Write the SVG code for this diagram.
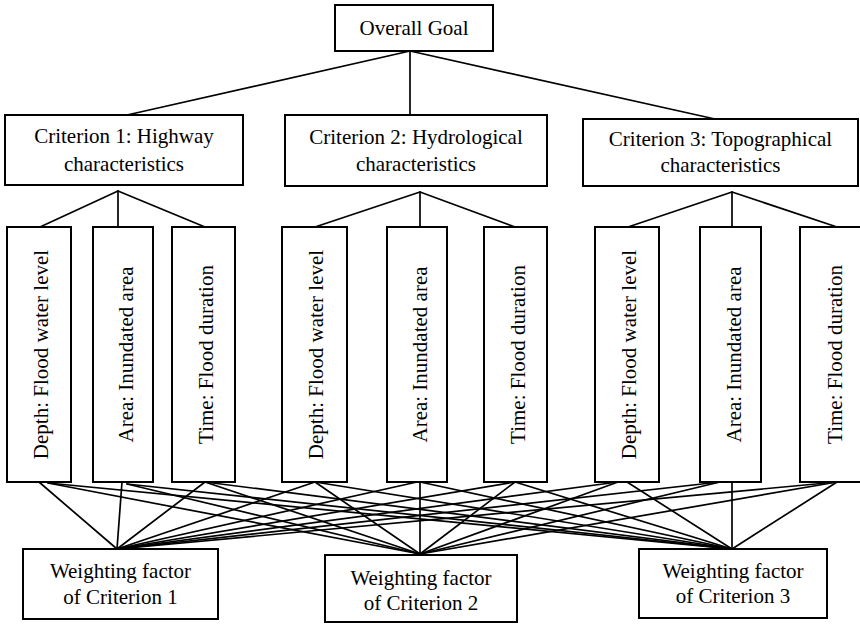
<svg xmlns="http://www.w3.org/2000/svg" width="860" height="625" viewBox="0 0 860 625">
<style>
.box{fill:#fff;stroke:#000;stroke-width:2}
.lbl{font-family:'Liberation Serif','DejaVu Serif',serif;font-size:21px;text-anchor:middle;fill:#000}
.conn line{stroke:#000;stroke-width:1.7;stroke-linecap:round}
</style>
<rect width="860" height="625" fill="#fff"/>
<g id="connectors" class="conn">
<line x1="410" y1="51" x2="127" y2="115"/>
<line x1="410" y1="51" x2="410" y2="115"/>
<line x1="410" y1="51" x2="715" y2="119"/>
<line x1="118" y1="191" x2="40" y2="227"/>
<line x1="118" y1="191" x2="118" y2="227"/>
<line x1="118" y1="191" x2="205" y2="227"/>
<line x1="420" y1="192" x2="315" y2="227"/>
<line x1="420" y1="192" x2="420" y2="227"/>
<line x1="420" y1="192" x2="515" y2="227"/>
<line x1="732" y1="192" x2="628" y2="227"/>
<line x1="732" y1="192" x2="732" y2="227"/>
<line x1="732" y1="192" x2="837" y2="227"/>
<line x1="39" y1="482" x2="117" y2="549"/>
<line x1="122" y1="482" x2="117" y2="549"/>
<line x1="205" y1="482" x2="117" y2="549"/>
<line x1="315" y1="482" x2="117" y2="549"/>
<line x1="417" y1="482" x2="117" y2="549"/>
<line x1="515" y1="482" x2="117" y2="549"/>
<line x1="618" y1="482" x2="117" y2="549"/>
<line x1="720" y1="482" x2="117" y2="549"/>
<line x1="837" y1="482" x2="117" y2="549"/>
<line x1="48" y1="483" x2="420" y2="554"/>
<line x1="127" y1="484" x2="420" y2="554"/>
<line x1="205" y1="482" x2="420" y2="554"/>
<line x1="315" y1="482" x2="420" y2="554"/>
<line x1="420" y1="482" x2="420" y2="554"/>
<line x1="515" y1="482" x2="420" y2="554"/>
<line x1="618" y1="482" x2="420" y2="554"/>
<line x1="720" y1="482" x2="420" y2="554"/>
<line x1="837" y1="482" x2="420" y2="554"/>
<line x1="48" y1="483" x2="732" y2="549"/>
<line x1="127" y1="484" x2="732" y2="549"/>
<line x1="205" y1="482" x2="732" y2="549"/>
<line x1="315" y1="482" x2="732" y2="549"/>
<line x1="420" y1="482" x2="732" y2="549"/>
<line x1="515" y1="482" x2="732" y2="549"/>
<line x1="627" y1="482" x2="732" y2="549"/>
<line x1="732" y1="482" x2="732" y2="549"/>
<line x1="837" y1="482" x2="732" y2="549"/>
</g>
<g id="goal"><rect class="box" x="335" y="5" width="158" height="46"/><text class="lbl" font-family="Liberation Serif, serif" x="414" y="35">Overall Goal</text></g>
<g id="criterion1"><rect class="box" x="5" y="115" width="238" height="70"/><text class="lbl" font-family="Liberation Serif, serif" x="124" y="143">Criterion 1: Highway</text><text class="lbl" font-family="Liberation Serif, serif" x="124" y="171">characteristics</text></g>
<g id="criterion2"><rect class="box" x="285" y="115" width="262" height="71"/><text class="lbl" font-family="Liberation Serif, serif" x="416" y="144">Criterion 2: Hydrological</text><text class="lbl" font-family="Liberation Serif, serif" x="416" y="171">characteristics</text></g>
<g id="criterion3"><rect class="box" x="583" y="119" width="275" height="67"/><text class="lbl" font-family="Liberation Serif, serif" x="720.5" y="146">Criterion 3: Topographical</text><text class="lbl" font-family="Liberation Serif, serif" x="720.5" y="172">characteristics</text></g>
<g id="c1-depth"><rect class="box" x="7" y="227" width="64" height="255"/><text class="lbl" font-family="Liberation Serif, serif" transform="translate(48,354.5) rotate(-90)">Depth: Flood water level</text></g>
<g id="c1-area"><rect class="box" x="93" y="227" width="60" height="255"/><text class="lbl" font-family="Liberation Serif, serif" transform="translate(133,354.5) rotate(-90)">Area: Inundated area</text></g>
<g id="c1-time"><rect class="box" x="172" y="227" width="63" height="255"/><text class="lbl" font-family="Liberation Serif, serif" transform="translate(213,354.5) rotate(-90)">Time: Flood duration</text></g>
<g id="c2-depth"><rect class="box" x="282" y="227" width="65" height="255"/><text class="lbl" font-family="Liberation Serif, serif" transform="translate(323,354.5) rotate(-90)">Depth: Flood water level</text></g>
<g id="c2-area"><rect class="box" x="387" y="227" width="60" height="255"/><text class="lbl" font-family="Liberation Serif, serif" transform="translate(427,354.5) rotate(-90)">Area: Inundated area</text></g>
<g id="c2-time"><rect class="box" x="484" y="227" width="63" height="255"/><text class="lbl" font-family="Liberation Serif, serif" transform="translate(525,354.5) rotate(-90)">Time: Flood duration</text></g>
<g id="c3-depth"><rect class="box" x="595" y="227" width="64" height="255"/><text class="lbl" font-family="Liberation Serif, serif" transform="translate(636,354.5) rotate(-90)">Depth: Flood water level</text></g>
<g id="c3-area"><rect class="box" x="700" y="227" width="61" height="255"/><text class="lbl" font-family="Liberation Serif, serif" transform="translate(741,354.5) rotate(-90)">Area: Inundated area</text></g>
<g id="c3-time"><rect class="box" x="800" y="227" width="63" height="255"/><text class="lbl" font-family="Liberation Serif, serif" transform="translate(842,354.5) rotate(-90)">Time: Flood duration</text></g>
<g id="weight1"><rect class="box" x="23" y="549" width="195" height="70"/><text class="lbl" font-family="Liberation Serif, serif" x="120.5" y="578">Weighting factor</text><text class="lbl" font-family="Liberation Serif, serif" x="120.5" y="604">of Criterion 1</text></g>
<g id="weight2"><rect class="box" x="325" y="555" width="192" height="67"/><text class="lbl" font-family="Liberation Serif, serif" x="421" y="585">Weighting factor</text><text class="lbl" font-family="Liberation Serif, serif" x="421" y="610">of Criterion 2</text></g>
<g id="weight3"><rect class="box" x="639" y="549" width="188" height="69"/><text class="lbl" font-family="Liberation Serif, serif" x="733" y="578">Weighting factor</text><text class="lbl" font-family="Liberation Serif, serif" x="733" y="603">of Criterion 3</text></g>
</svg>
